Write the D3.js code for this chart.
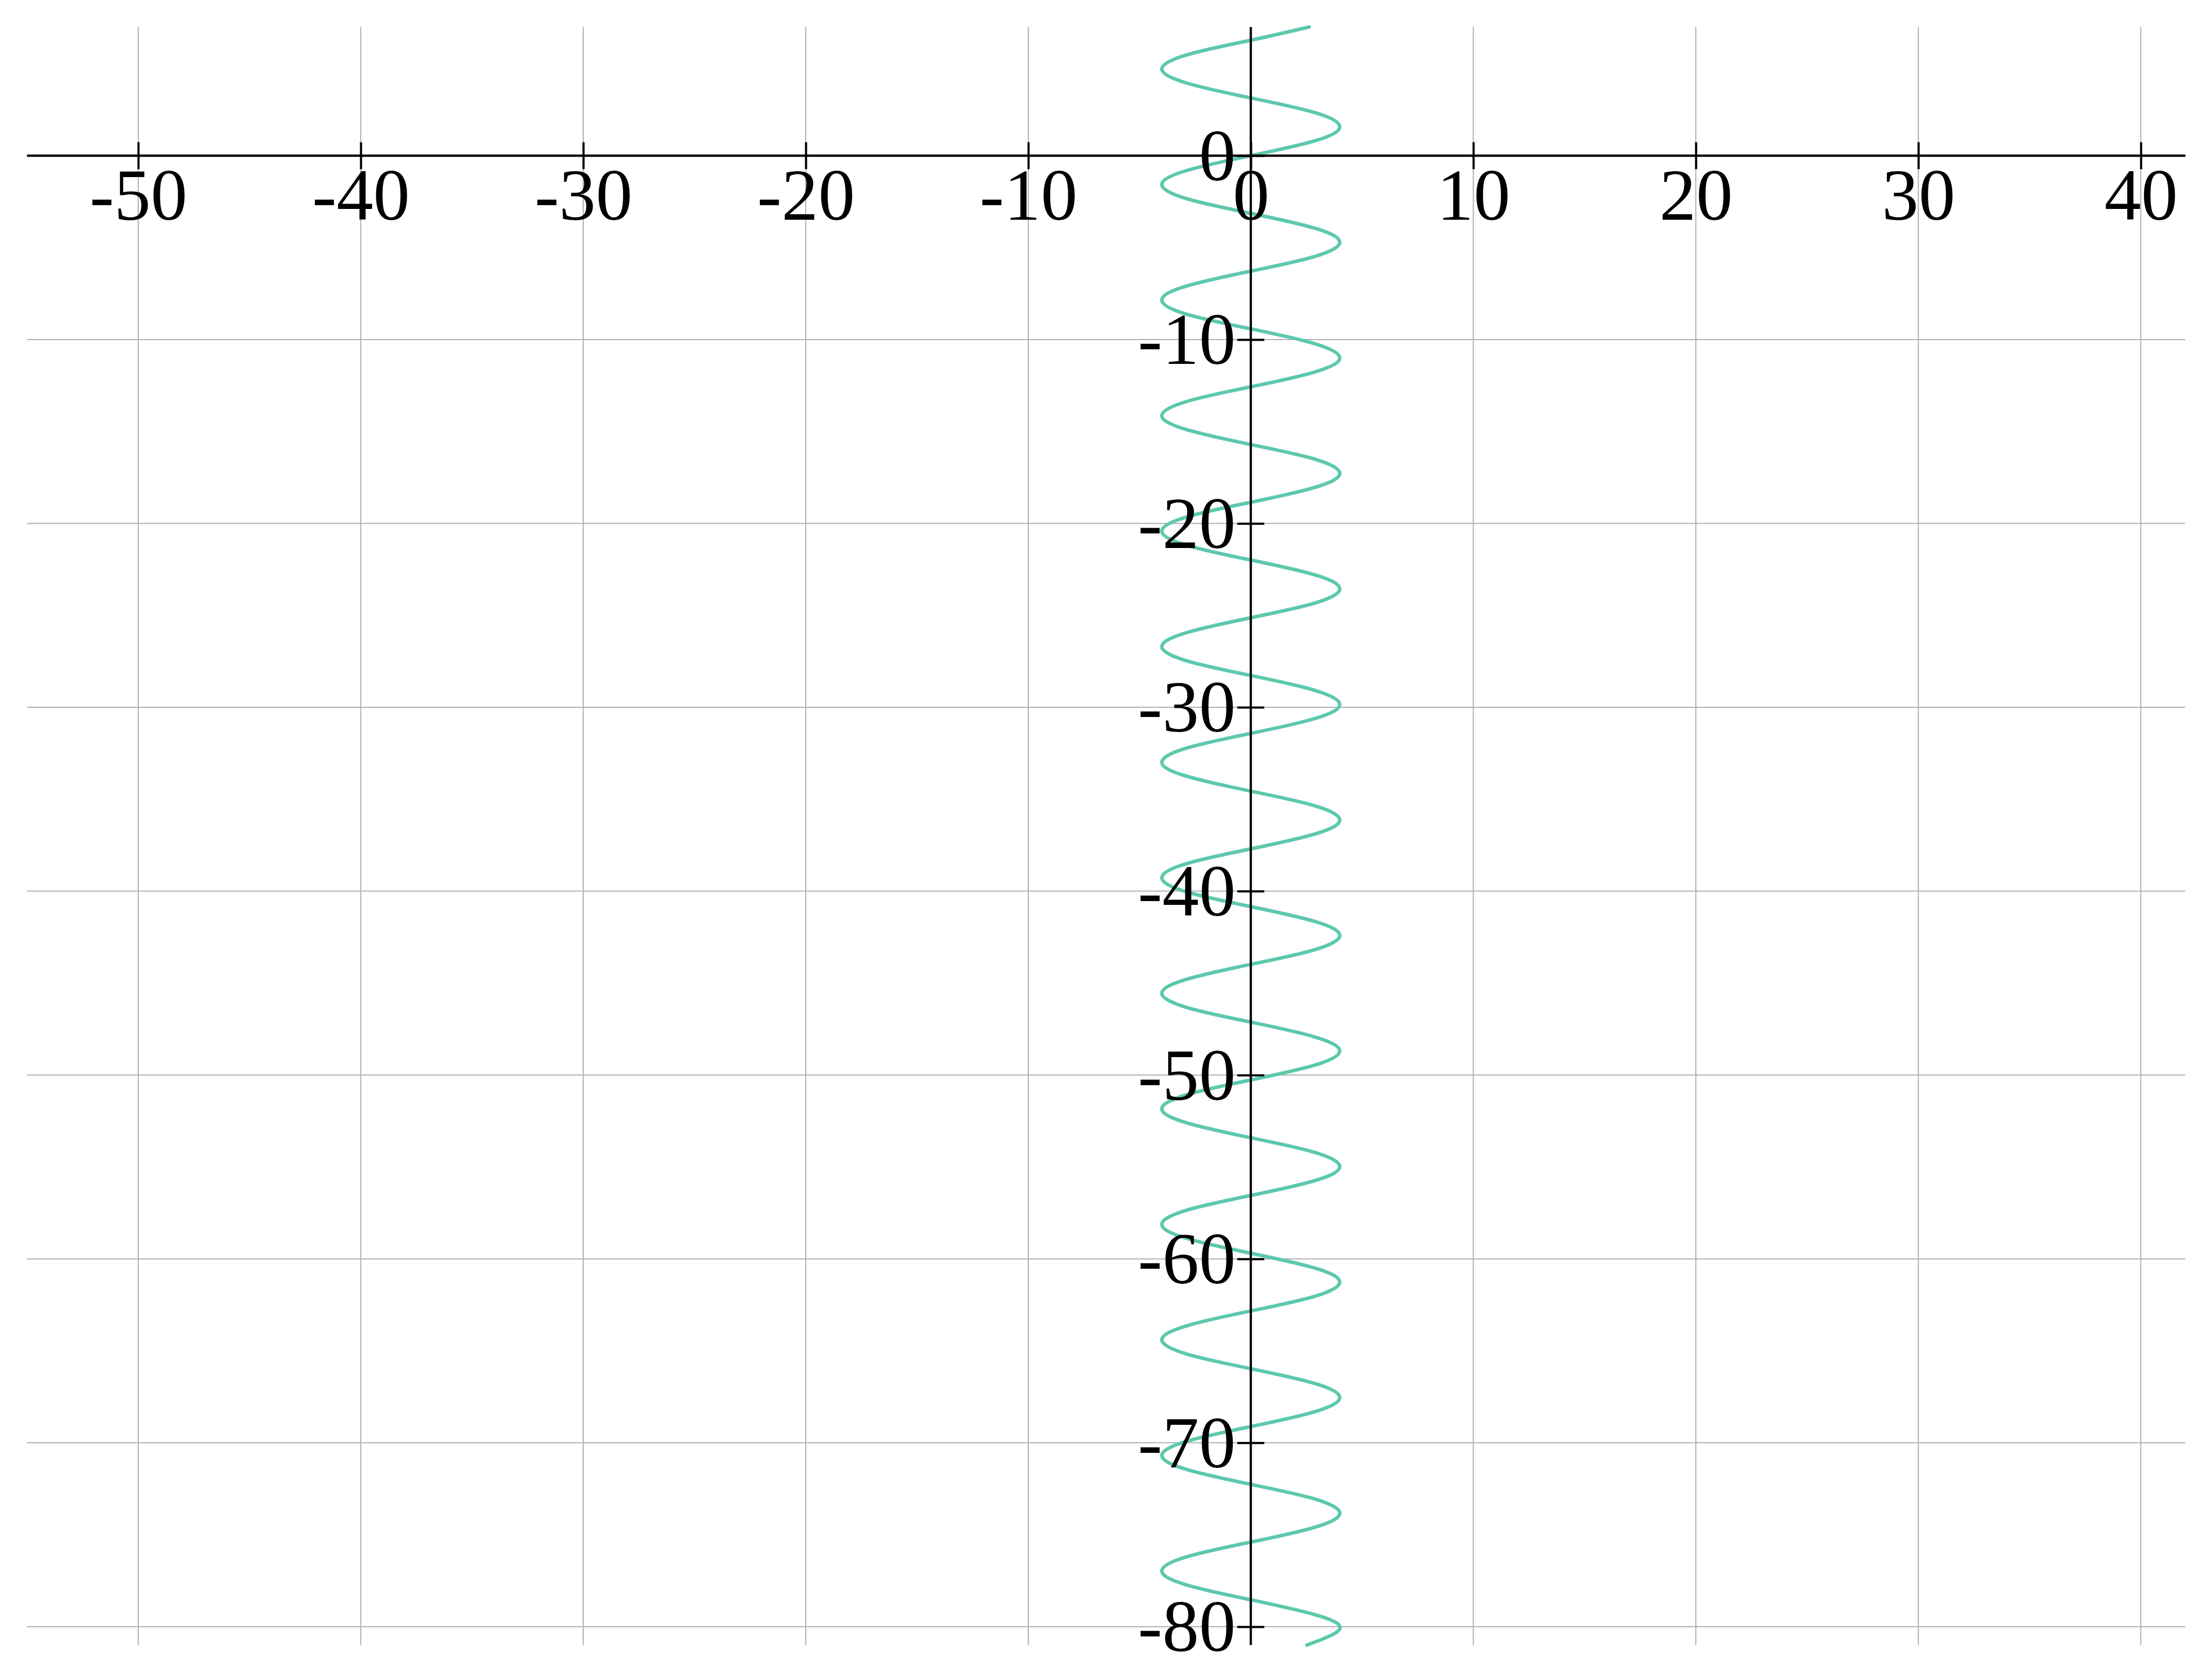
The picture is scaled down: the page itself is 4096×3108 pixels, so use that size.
<!DOCTYPE html>
<html>
<head>
<meta charset="utf-8">
<script src="https://cdn.jsdelivr.net/npm/d3@7"></script>
<style>
  html, body { margin: 0; padding: 0; background: #ffffff; }
  svg { display: block; }
</style>
</head>
<body>
<script>
// ---- data ----
const xTicks = [-50, -40, -30, -20, -10, 0, 10, 20, 30, 40];
const yTicks = [0, -10, -20, -30, -40, -50, -60, -70, -80];
const xDomain = [-55, 42];
const yDomain = [-81, 7];

// curve sample points: vertical position (y) and horizontal offset (x)
const curveY = [
  7.00, 6.28, 5.50, 4.71, 3.93, 3.14, 2.36, 1.57, 0.79, 0.00,
  -0.79, -1.57, -2.36, -3.14, -3.93, -4.71, -5.50, -6.28,
  -7.07, -7.85, -8.64, -9.42, -10.21, -11.00, -11.78, -12.57,
  -13.35, -14.14, -14.92, -15.71, -16.49, -17.28, -18.06, -18.85,
  -19.63, -20.42, -21.21, -21.99, -22.78, -23.56, -24.35, -25.13,
  -25.92, -26.70, -27.49, -28.27, -29.06, -29.85, -30.63, -31.42,
  -32.20, -32.99, -33.77, -34.56, -35.34, -36.13, -36.91, -37.70,
  -38.48, -39.27, -40.06, -40.84, -41.63, -42.41, -43.20, -43.98,
  -44.77, -45.55, -46.34, -47.12, -47.91, -48.69, -49.48, -50.27,
  -51.05, -51.84, -52.62, -53.41, -54.19, -54.98, -55.76, -56.55,
  -57.33, -58.12, -58.90, -59.69, -60.48, -61.26, -62.05, -62.83,
  -63.62, -64.40, -65.19, -65.97, -66.76, -67.54, -68.33, -69.12,
  -69.90, -70.69, -71.47, -72.26, -73.04, -73.83, -74.61, -75.40,
  -76.18, -76.97, -77.75, -78.54, -79.33, -80.11, -81.00
];
const curveX = [
  2.63, 0, -2.83, -4, -2.83, 0, 2.83, 4, 2.83, 0,
  -2.83, -4, -2.83, 0, 2.83, 4, 2.83, 0,
  -2.83, -4, -2.83, 0, 2.83, 4, 2.83, 0,
  -2.83, -4, -2.83, 0, 2.83, 4, 2.83, 0,
  -2.83, -4, -2.83, 0, 2.83, 4, 2.83, 0,
  -2.83, -4, -2.83, 0, 2.83, 4, 2.83, 0,
  -2.83, -4, -2.83, 0, 2.83, 4, 2.83, 0,
  -2.83, -4, -2.83, 0, 2.83, 4, 2.83, 0,
  -2.83, -4, -2.83, 0, 2.83, 4, 2.83, 0,
  -2.83, -4, -2.83, 0, 2.83, 4, 2.83, 0,
  -2.83, -4, -2.83, 0, 2.83, 4, 2.83, 0,
  -2.83, -4, -2.83, 0, 2.83, 4, 2.83, 0,
  -2.83, -4, -2.83, 0, 2.83, 4, 2.83, 0,
  -2.83, -4, -2.83, 0, 2.83, 4, 2.52
];

// ---- layout (reference pixel coordinates, scaled by 0.999) ----
const W = 4096, H = 3108, S = 0.999;
const plot = { left: 50, right: 4050.7, top: 50, bottom: 3050 };
const FONT = "'Liberation Serif', 'DejaVu Serif', serif";
const FS = 136;

const svg = d3.select("body").append("svg")
  .attr("width", W).attr("height", H)
  .attr("viewBox", `0 0 ${W} ${H}`);
svg.append("rect").attr("width", W).attr("height", H).attr("fill", "#ffffff");

const g = svg.append("g").attr("transform", `scale(${S})`);

const x = d3.scaleLinear().domain(xDomain).range([plot.left, plot.right]);
const y = d3.scaleLinear().domain(yDomain).range([plot.bottom, plot.top]);

// grid
const grid = g.append("g").attr("stroke", "#b0b0b0").attr("stroke-width", 2);
grid.selectAll("line.gx").data(xTicks).join("line")
  .attr("class", "gx")
  .attr("x1", d => x(d)).attr("x2", d => x(d))
  .attr("y1", plot.top).attr("y2", plot.bottom);
grid.selectAll("line.gy").data(yTicks).join("line")
  .attr("class", "gy")
  .attr("x1", plot.left).attr("x2", plot.right)
  .attr("y1", d => y(d)).attr("y2", d => y(d));

// curve
const pts = curveY.map((v, i) => [curveX[i], v]);
const line = d3.line()
  .x(d => x(d[0]))
  .y(d => y(d[1]))
  .curve(d3.curveNatural);
g.append("path")
  .datum(pts)
  .attr("d", line)
  .attr("fill", "none")
  .attr("stroke", "#5dc8ae")
  .attr("stroke-width", 6.5)
  .attr("stroke-linecap", "round")
  .attr("stroke-linejoin", "round");

// x axis (through y = 0)
const gx = g.append("g")
  .attr("transform", `translate(0,${y(0)})`)
  .call(d3.axisBottom(x).tickValues(xTicks).tickSize(25).tickSizeOuter(0)
        .tickFormat(d => String(d)));
gx.select(".domain").attr("stroke", "#000").attr("stroke-width", 4.2)
  .attr("d", `M${plot.left},0H${plot.right}`);
gx.selectAll(".tick line").attr("y1", -25).attr("y2", 25)
  .attr("stroke", "#000").attr("stroke-width", 4);
gx.selectAll(".tick text")
  .attr("y", 119).attr("dy", null)
  .attr("fill", "#000")
  .attr("font-family", FONT).attr("font-size", FS);

// y axis (through x = 0)
const gy = g.append("g")
  .attr("transform", `translate(${x(0)},0)`)
  .call(d3.axisLeft(y).tickValues(yTicks).tickSize(25).tickSizeOuter(0)
        .tickFormat(d => String(d)));
gy.select(".domain").attr("stroke", "#000").attr("stroke-width", 4.2)
  .attr("d", `M0,${plot.top}V${plot.bottom}`);
gy.selectAll(".tick line").attr("x1", 25).attr("x2", -25)
  .attr("stroke", "#000").attr("stroke-width", 4);
gy.selectAll(".tick text")
  .attr("x", -28).attr("dy", "0.33em")
  .attr("fill", "#000")
  .attr("font-family", FONT).attr("font-size", FS);

gx.attr("font-family", null).attr("font-size", null);
gy.attr("font-family", null).attr("font-size", null);
</script>
</body>
</html>
